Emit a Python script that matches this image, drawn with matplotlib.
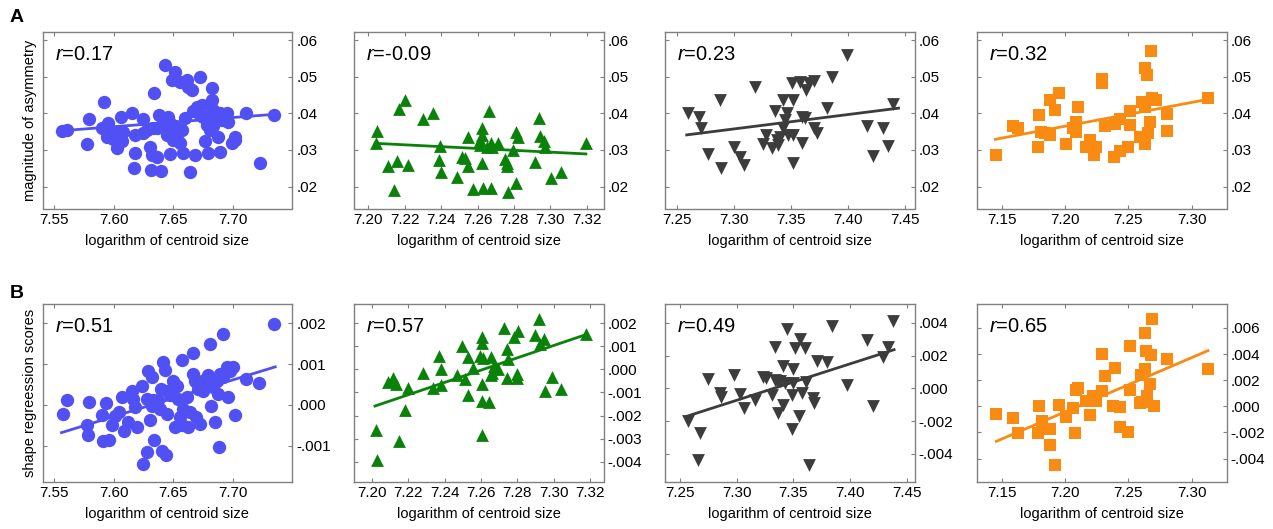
import numpy as np
import matplotlib
matplotlib.use('Agg')
import matplotlib.pyplot as plt

plt.rcParams['font.family'] = ['Liberation Sans', 'DejaVu Sans']
plt.rcParams['mathtext.fontset'] = 'custom'
plt.rcParams['mathtext.it'] = 'Liberation Sans:italic'
plt.rcParams['mathtext.rm'] = 'Liberation Sans'

# ---- row A: magnitude of asymmetry ----
a1_x = [7.5562, 7.5604, 7.5778, 7.5794, 7.5918, 7.5898, 7.5940, 7.5954, 7.5940, 7.5996,
        7.6024, 7.6066, 7.6058, 7.6080, 7.6150, 7.6178, 7.6178, 7.6173, 7.6249, 7.6249,
        7.6277, 7.6305, 7.6319, 7.6310, 7.6361, 7.6397, 7.6341, 7.6383, 7.6403, 7.6417,
        7.6431, 7.6459, 7.6445, 7.6473, 7.6487, 7.6515, 7.6557, 7.6515, 7.6543, 7.6557,
        7.6579, 7.6599, 7.6613, 7.6627, 7.6655, 7.6641, 7.6683, 7.6669, 7.6697, 7.6725,
        7.6739, 7.6753, 7.6767, 7.6781, 7.6795, 7.6809, 7.6823, 7.6823, 7.6837, 7.6837,
        7.6879, 7.6893, 7.6893, 7.6907, 7.6949, 7.6963, 7.6991, 7.7019, 7.7019, 7.7111,
        7.7230, 7.7342, 7.6010, 7.6333, 7.6445, 7.6361, 7.6501, 7.6725, 7.6865, 7.6473,
        7.6571, 7.6781]
a1_y = [.0352, .0355, .0316, .0385, .0432, .0360, .0350, .0373, .0336, .0329,
        .0305, .0323, .0391, .0350, .0402, .0341, .0291, .0250, .0384, .0345,
        .0355, .0309, .0286, .0244, .0281, .0242, .0456, .0395, .0368, .0382,
        .0532, .0391, .0341, .0289, .0491, .0514, .0486, .0364, .0345, .0318,
        .0291, .0386, .0491, .0473, .0464, .0241, .0286, .0405, .0418, .0500,
        .0423, .0391, .0323, .0368, .0291, .0355, .0468, .0436, .0409, .0364,
        .0336, .0295, .0400, .0382, .0400, .0377, .0318, .0336, .0327, .0400,
        .0264, .0395, .0350, .0359, .0364, .0359, .0327, .0395, .0391, .0373,
        .0355, .0391]

a2_x = [7.2046, 7.2042, 7.2110, 7.2156, 7.2141, 7.2170, 7.2200, 7.2216, 7.2299, 7.2357,
        7.2394, 7.2390, 7.2398, 7.2486, 7.2513, 7.2531, 7.2550, 7.2550, 7.2577, 7.2614,
        7.2623, 7.2623, 7.2623, 7.2632, 7.2665, 7.2672, 7.2678, 7.2672, 7.2714, 7.2750,
        7.2760, 7.2764, 7.2769, 7.2797, 7.2812, 7.2824, 7.2812, 7.2916, 7.2938, 7.2943,
        7.2965, 7.2971, 7.3004, 7.3057, 7.3195, 7.2650, 7.2614]
a2_y = [.0352, .0318, .0256, .0270, .0191, .0411, .0435, .0259, .0385, .0400,
        .0311, .0273, .0239, .0225, .0282, .0277, .0336, .0257, .0193, .0314,
        .0359, .0341, .0264, .0197, .0405, .0318, .0309, .0197, .0318, .0275,
        .0264, .0256, .0186, .0300, .0350, .0336, .0211, .0268, .0386, .0338,
        .0323, .0309, .0223, .0241, .0318, .0309, .0327]

a3_x = [7.2596, 7.2696, 7.2713, 7.2777, 7.2880, 7.2888, 7.3005, 7.3055, 7.3090, 7.3186,
        7.3259, 7.3280, 7.3332, 7.3361, 7.3376, 7.3390, 7.3434, 7.3434, 7.3464, 7.3449,
        7.3507, 7.3522, 7.3522, 7.3516, 7.3580, 7.3595, 7.3595, 7.3624, 7.3633, 7.3662,
        7.3703, 7.3703, 7.3726, 7.3820, 7.3858, 7.3989, 7.4164, 7.4217, 7.4304, 7.4348,
        7.4398, 7.3478, 7.3405]
a3_y = [.0400, .0391, .0361, .0289, .0436, .0250, .0309, .0282, .0259, .0471,
        .0316, .0341, .0305, .0405, .0327, .0314, .0436, .0359, .0400, .0382,
        .0482, .0436, .0341, .0265, .0486, .0391, .0318, .0386, .0464, .0482,
        .0488, .0359, .0345, .0414, .0500, .0559, .0365, .0284, .0359, .0312,
        .0425, .0341, .0336]

a4_x = [7.1455, 7.1587, 7.1627, 7.1783, 7.1796, 7.1809, 7.1843, 7.1878, 7.1883, 7.1917,
        7.1949, 7.2007, 7.2060, 7.2089, 7.2089, 7.2102, 7.2165, 7.2200, 7.2226, 7.2247,
        7.2292, 7.2292, 7.2313, 7.2385, 7.2398, 7.2432, 7.2432, 7.2496, 7.2511, 7.2511,
        7.2596, 7.2609, 7.2628, 7.2628, 7.2635, 7.2649, 7.2657, 7.2680, 7.2675, 7.2688,
        7.2715, 7.2807, 7.2807, 7.3132]
a4_y = [.0286, .0365, .0359, .0309, .0394, .0350, .0347, .0435, .0341, .0409,
        .0456, .0316, .0359, .0377, .0350, .0418, .0309, .0327, .0286, .0309,
        .0493, .0482, .0364, .0282, .0370, .0384, .0298, .0307, .0405, .0368,
        .0336, .0432, .0316, .0418, .0523, .0505, .0345, .0570, .0377, .0441,
        .0435, .0397, .0352, .0441]

# ---- row B: shape regression scores ----
b1_x = [7.5576, 7.5604, 7.5778, 7.5786, 7.5794, 7.5898, 7.5912, 7.5932, 7.5963, 7.5982,
        7.6010, 7.6047, 7.6072, 7.6086, 7.6122, 7.6150, 7.6164, 7.6178, 7.6192, 7.6235,
        7.6243, 7.6277, 7.6291, 7.6305, 7.6319, 7.6319, 7.6341, 7.6375, 7.6389, 7.6397,
        7.6403, 7.6417, 7.6431, 7.6439, 7.6445, 7.6459, 7.6473, 7.6501, 7.6515, 7.6529,
        7.6543, 7.6557, 7.6571, 7.6571, 7.6579, 7.6613, 7.6627, 7.6641, 7.6663, 7.6669,
        7.6683, 7.6691, 7.6711, 7.6725, 7.6739, 7.6753, 7.6767, 7.6795, 7.6809, 7.6815,
        7.6832, 7.6851, 7.6865, 7.6879, 7.6888, 7.6893, 7.6916, 7.6921, 7.6949, 7.6963,
        7.6977, 7.7005, 7.7019, 7.7111, 7.7224, 7.7342, 7.6277, 7.6333, 7.6725, 7.6781]
b1_y = [-.00022, .00012, -.00050, -.00075, .00008, -.00024, -.00089, .00004, -.00085, -.00050,
        -.00028, -.00018, .00019, -.00063, -.00042, .00033, .00015, -.00006, -.00054, .00047,
        -.00146, -.00115, .00084, -.00038, .00067, -.00002, -.00087, .00011, -.00010, .00039,
        -.00113, .00104, .00085, -.00124, -.00022, .00035, .00023, .00059, -.00054, .00047,
        .00015, -.00030, .00110, -.00050, -.00010, .00019, -.00054, -.00018, .00126, .00076,
        .00059, -.00030, .00039, -.00046, .00059, .00035, .00051, .00072, .00149, -.00002,
        .00043, -.00042, .00059, .00027, -.00103, .00076, .00173, .00067, .00092, .00019,
        .00084, .00092, -.00024, .00063, .00053, .00198, .00015, .00011, .00051, .00059]

b2_x = [7.2024, 7.2027, 7.2092, 7.2115, 7.2134, 7.2152, 7.2183, 7.2198, 7.2280, 7.2339,
        7.2372, 7.2379, 7.2379, 7.2467, 7.2495, 7.2513, 7.2531, 7.2531, 7.2559, 7.2595,
        7.2605, 7.2608, 7.2605, 7.2605, 7.2605, 7.2614, 7.2647, 7.2654, 7.2654, 7.2660,
        7.2696, 7.2727, 7.2742, 7.2745, 7.2751, 7.2779, 7.2797, 7.2806, 7.2797, 7.2898,
        7.2920, 7.2925, 7.2947, 7.2953, 7.2989, 7.3039, 7.3176, 7.2669]
b2_y = [-.00264, -.00394, -.00055, -.00036, -.00065, -.00312, -.00174, -.00080, -.00014, -.00080,
        .00058, .00000, -.00070, -.00026, .00099, -.00041, .00055, -.00113, .00007, .00058,
        .00138, .00113, -.00065, -.00138, -.00286, .00051, -.00142, .00055, -.00026, -.00014,
        .00003, .00181, .00090, -.00036, .00043, .00138, -.00022, .00167, -.00036, .00148,
        .00217, .00109, .00130, -.00094, -.00032, -.00084, .00155, .00014]

b3_x = [7.2568, 7.2676, 7.2662, 7.2750, 7.2853, 7.2859, 7.2979, 7.3029, 7.3065, 7.3162,
        7.3235, 7.3256, 7.3309, 7.3338, 7.3338, 7.3353, 7.3368, 7.3412, 7.3412, 7.3441,
        7.3426, 7.3485, 7.3485, 7.3500, 7.3515, 7.3553, 7.3559, 7.3574, 7.3603, 7.3612,
        7.3641, 7.3676, 7.3682, 7.3706, 7.3800, 7.3838, 7.3971, 7.4147, 7.4200, 7.4288,
        7.4332, 7.4382, 7.3500, 7.3382]
b3_y = [-.00202, -.00273, -.00440, .00057, -.00029, -.00053, .00083, -.00035, -.00120, -.00069,
        .00069, .00063, -.00039, .00252, .00053, .00043, -.00151, .00134, -.00100, .00362,
        .00033, -.00039, -.00248, .00118, .00246, -.00167, .00301, -.00029, .00246, .00037,
        -.00466, -.00059, -.00090, .00165, .00159, .00379, .00022, .00297, -.00106, .00191,
        .00250, .00409, .00033, .00043]

b4_x = [7.1455, 7.1585, 7.1624, 7.1783, 7.1796, 7.1817, 7.1883, 7.1878, 7.1917, 7.1949,
        7.2007, 7.2060, 7.2081, 7.2089, 7.2102, 7.2165, 7.2200, 7.2221, 7.2247, 7.2292,
        7.2292, 7.2313, 7.2379, 7.2398, 7.2437, 7.2432, 7.2496, 7.2511, 7.2511, 7.2596,
        7.2601, 7.2628, 7.2630, 7.2643, 7.2649, 7.2675, 7.2683, 7.2688, 7.2701, 7.2807,
        7.3132, 7.2609]
b4_y = [-.00056, -.00089, -.00204, -.00204, .00000, -.00115, -.00173, -.00298, -.00446, .00013,
        -.00084, -.00013, -.00204, .00128, .00140, .00043, -.00069, .00077, .00038, .00403,
        .00115, .00230, .00000, .00293, -.00005, -.00161, -.00199, .00464, .00128, .00026,
        .00242, .00286, .00561, .00421, .00077, .00173, .00395, .00668, .00000, .00362,
        .00286, .00031]

# regression lines (end points)
fit_x = {'a1': [7.5548, 7.7342], 'a2': [7.2037, 7.3195], 'a3': [7.2588, 7.4442], 'a4': [7.1447, 7.3130],
         'b1': [7.5562, 7.7356], 'b2': [7.2018, 7.3182], 'b3': [7.2559, 7.4388], 'b4': [7.1455, 7.3130]}
fit_y = {'a1': [.0352, .0397], 'a2': [.0318, .0289], 'a3': [.0341, .0414], 'a4': [.0329, .0438],
         'b1': [-.00068, .00093], 'b2': [-.00159, .00152], 'b3': [-.00171, .00236], 'b4': [-.00268, .00426]}

r_vals = {'a1': '0.17', 'a2': '-0.09', 'a3': '0.23', 'a4': '0.32',
          'b1': '0.51', 'b2': '0.57', 'b3': '0.49', 'b4': '0.65'}

x_ticks = [[7.55, 7.60, 7.65, 7.70],
           [7.20, 7.22, 7.24, 7.26, 7.28, 7.30, 7.32],
           [7.25, 7.30, 7.35, 7.40, 7.45],
           [7.15, 7.20, 7.25, 7.30]]
x_lims_a = [(7.5402, 7.7497), (7.1921, 7.3292), (7.2398, 7.4582), (7.1302, 7.3277)]
x_lims_b = [(7.5402, 7.7497), (7.1903, 7.3273), (7.2368, 7.4568), (7.1302, 7.3277)]

a_yticks = [.02, .03, .04, .05, .06]
a_ylabels = ['.02', '.03', '.04', '.05', '.06']
b_yticks = [[-.001, 0, .001, .002],
            [-.004, -.003, -.002, -.001, 0, .001, .002],
            [-.004, -.002, 0, .002, .004],
            [-.004, -.002, 0, .002, .004, .006]]
b_ylabels = [['-.001', '.000', '.001', '.002'],
             ['-.004', '-.003', '-.002', '-.001', '.000', '.001', '.002'],
             ['-.004', '-.002', '.000', '.002', '.004'],
             ['-.004', '-.002', '.000', '.002', '.004', '.006']]
b_ylims = [(-.00189, .00247), (-.00488, .00283), (-.00572, .00515), (-.00579, .00783)]

colors = ['#5050f5', '#0a820a', '#3c3c3c', '#f98a12']
markers = ['o', '^', 'v', 's']
sizes = [92, 85, 85, 64]

W, H = 1273, 529
lefts = [42.5, 354, 665, 977]
width = 249.5

def style_axis(ax):
    '''
    grey box with small inward ticks, labels on the right
    '''
    for s in ax.spines.values():
        s.set_color('#808080')
        s.set_linewidth(1.0)
    ax.tick_params(axis='both', direction='in', length=3, width=0.8, color='#808080',
                   labelsize=11, top=True, bottom=True, left=True, right=True,
                   labelleft=False, labelright=True, pad=3)

fig = plt.figure(figsize=(W / 100, H / 100), dpi=100)

a_data = [(a1_x, a1_y), (a2_x, a2_y), (a3_x, a3_y), (a4_x, a4_y)]
b_data = [(b1_x, b1_y), (b2_x, b2_y), (b3_x, b3_y), (b4_x, b4_y)]

for row, (data, top, bottom) in enumerate([(a_data, 32, 208.5), (b_data, 304, 482)]):
    for i in range(4):
        ax = fig.add_axes([lefts[i] / W, 1 - bottom / H, width / W, (bottom - top) / H])
        key = ('a', 'b')[row] + str(i + 1)
        x, y = data[i]
        ax.scatter(x, y, s=sizes[i], marker=markers[i], color=colors[i], linewidths=0, zorder=3)
        ax.plot(fit_x[key], fit_y[key], color=colors[i], lw=2.0, zorder=2)

        ax.set_xticks(x_ticks[i])
        ax.set_xticklabels(['%.2f' % t for t in x_ticks[i]])
        if row == 0:
            ax.set_xlim(*x_lims_a[i])
            ax.set_ylim(.0140, .0622)
            ax.set_yticks(a_yticks)
            ax.set_yticklabels(a_ylabels)
        else:
            ax.set_xlim(*x_lims_b[i])
            ax.set_ylim(*b_ylims[i])
            ax.set_yticks(b_yticks[i])
            ax.set_yticklabels(b_ylabels[i])
        style_axis(ax)
        ax.set_xlabel('logarithm of centroid size', fontsize=10.5, labelpad=5)
        ax.text(0.05, 0.875, r'$r$=' + r_vals[key], transform=ax.transAxes,
                fontsize=14.5, va='center', ha='left', zorder=5)

        if i == 0:
            ax.set_ylabel(['magnitude of asymmetry', 'shape regreession scores'][row],
                          fontsize=10.5, labelpad=4)

fig.text(10 / W, 1 - 17 / H, 'A', fontsize=14, fontweight='bold', va='center')
fig.text(10 / W, 1 - 294 / H, 'B', fontsize=14, fontweight='bold', va='center')

plt.savefig('out.png', dpi=100)
